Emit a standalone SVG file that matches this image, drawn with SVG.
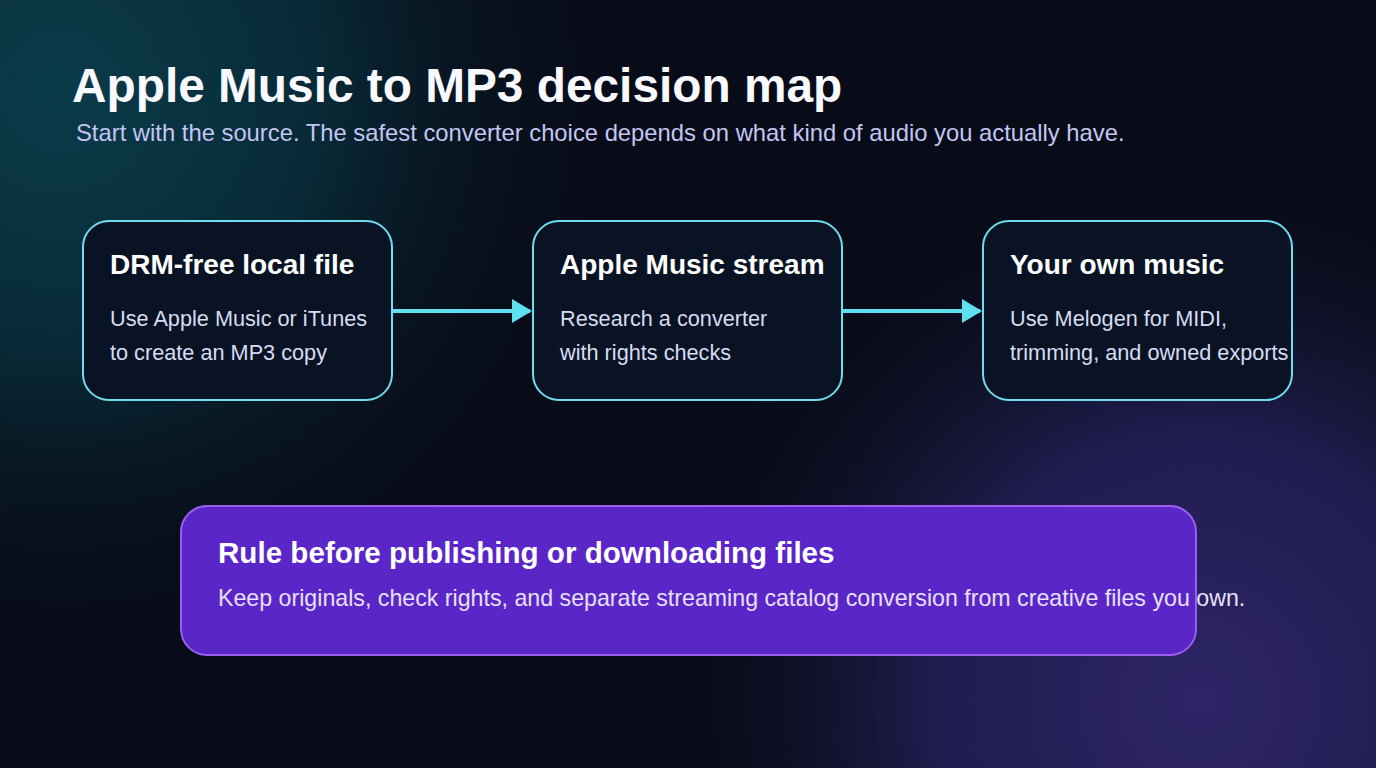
<svg xmlns="http://www.w3.org/2000/svg" width="1376" height="768" viewBox="0 0 1376 768">
<defs>
<radialGradient id="tl" cx="60" cy="90" r="580" gradientUnits="userSpaceOnUse">
<stop offset="0" stop-color="#0b3b4a"/>
<stop offset="0.45" stop-color="#082a36"/>
<stop offset="1" stop-color="#080c18" stop-opacity="0"/>
</radialGradient>
<radialGradient id="br" cx="1200" cy="700" r="540" gradientUnits="userSpaceOnUse">
<stop offset="0" stop-color="#2d2566"/>
<stop offset="0.5" stop-color="#201c4e"/>
<stop offset="1" stop-color="#0a0f1e" stop-opacity="0"/>
</radialGradient>
<marker id="ah" markerWidth="5" markerHeight="6" refX="4.5" refY="3" orient="auto" markerUnits="strokeWidth">
<path d="M0,0 L5,3 L0,6 z" fill="#5fe0f2"/>
</marker>
<style>
.card{fill:#0a1324;stroke:#6fdcef;stroke-width:2}
.ct{font-family:"Liberation Sans",Arial,sans-serif;font-weight:bold;font-size:28px;fill:#ffffff}
.cb{font-family:"Liberation Sans",Arial,sans-serif;font-size:21.7px;fill:#d6dcf2}
.conn{stroke:#5fe0f2;stroke-width:4;fill:none}
</style>
</defs>
<rect width="1376" height="768" fill="#080c18"/>
<rect width="1376" height="768" fill="url(#tl)"/>
<rect width="1376" height="768" fill="url(#br)"/>
<g id="title">
<text x="72" y="102" font-family="Liberation Sans,Arial,sans-serif" font-weight="bold" font-size="47.8" fill="#f8f8ff">Apple Music to MP3 decision map</text>
<text x="76" y="141" font-family="Liberation Sans,Arial,sans-serif" font-size="23.8" fill="#c3c6f2">Start with the source. The safest converter choice depends on what kind of audio you actually have.</text>
</g>
<g id="connectors">
<line class="conn" x1="392" y1="311" x2="530" y2="311" marker-end="url(#ah)"/>
<line class="conn" x1="842" y1="311" x2="980" y2="311" marker-end="url(#ah)"/>
</g>
<g id="node-drm">
<rect class="card" x="83" y="221" width="309" height="179" rx="26"/>
<text class="ct" x="110" y="274">DRM-free local file</text>
<text class="cb" x="110" y="326">Use Apple Music or iTunes</text>
<text class="cb" x="110" y="360">to create an MP3 copy</text>
</g>
<g id="node-stream">
<rect class="card" x="533" y="221" width="309" height="179" rx="26"/>
<text class="ct" x="560" y="274">Apple Music stream</text>
<text class="cb" x="560" y="326">Research a converter</text>
<text class="cb" x="560" y="360">with rights checks</text>
</g>
<g id="node-own">
<rect class="card" x="983" y="221" width="309" height="179" rx="26"/>
<text class="ct" x="1010" y="274">Your own music</text>
<text class="cb" x="1010" y="326">Use Melogen for MIDI,</text>
<text class="cb" x="1010" y="360">trimming, and owned exports</text>
</g>
<g id="node-rule">
<rect x="181" y="506" width="1015" height="149" rx="26" fill="#5b26c8" stroke="#9b5ff0" stroke-width="2"/>
<text x="218" y="563" font-family="Liberation Sans,Arial,sans-serif" font-weight="bold" font-size="29.6" fill="#ffffff">Rule before publishing or downloading files</text>
<text x="218" y="606" font-family="Liberation Sans,Arial,sans-serif" font-size="23.2" fill="#e6e0fa">Keep originals, check rights, and separate streaming catalog conversion from creative files you own.</text>
</g>
</svg>
